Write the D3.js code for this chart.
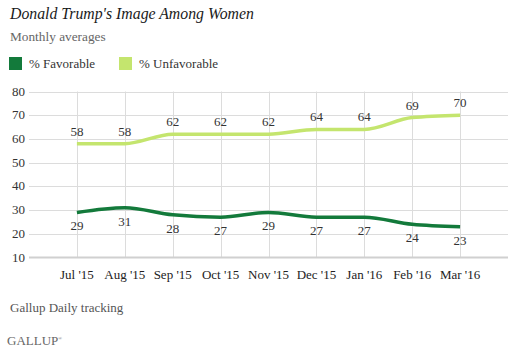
<!DOCTYPE html>
<html>
<head>
<meta charset="utf-8">
<script src="https://cdn.jsdelivr.net/npm/d3@7"></script>
<style>
  body { margin: 0; background: #fff; }
</style>
</head>
<body>
<div id="chart"></div>
<script>
// Data
const months = ["Jul '15", "Aug '15", "Sep '15", "Oct '15", "Nov '15", "Dec '15", "Jan '16", "Feb '16", "Mar '16"];
const favorable = [29, 31, 28, 27, 29, 27, 27, 24, 23];
const unfavorable = [58, 58, 62, 62, 62, 64, 64, 69, 70];
const yTicks = [10, 20, 30, 40, 50, 60, 70, 80];

const W = 514, H = 353;
const favColor = "#137a3b", unfavColor = "#c4e56e";
const serif = "Liberation Serif";

const svg = d3.select("#chart")
    .append("svg")
    .attr("width", W)
    .attr("height", H);

// marks first, texts later in their own group
const marks = svg.append("g");
const texts = svg.append("g").attr("font-family", serif);

// Scales
const x = d3.scalePoint()
    .domain(months)
    .range([29, 508])
    .padding(1);

const y = d3.scaleLinear()
    .domain([10, 80])
    .range([257.5, 91.5]);

// helper for text styling
function txt(sel, size, color) {
    return sel.attr("font-family", serif)
        .attr("font-size", size)
        .attr("fill", color);
}

// Horizontal gridlines
marks.selectAll(".hgrid")
    .data(yTicks.filter(d => d !== 10))
    .join("line")
    .attr("class", "hgrid")
    .attr("x1", 29).attr("x2", 508)
    .attr("y1", d => Math.round(y(d)) + 0.5).attr("y2", d => Math.round(y(d)) + 0.5)
    .attr("stroke", "#dcdcdc")
    .attr("stroke-width", 1);

// Vertical gridlines
marks.selectAll(".vgrid")
    .data(months)
    .join("line")
    .attr("class", "vgrid")
    .attr("x1", d => Math.round(x(d)) + 0.5).attr("x2", d => Math.round(x(d)) + 0.5)
    .attr("y1", y(80)).attr("y2", y(10))
    .attr("stroke", "#dcdcdc")
    .attr("stroke-width", 1);

// Baseline
marks.append("line")
    .attr("x1", 29).attr("x2", 508)
    .attr("y1", y(10)).attr("y2", y(10))
    .attr("stroke", "#d0d0d0")
    .attr("stroke-width", 2);

// Lines
const line = d3.line()
    .x((d, i) => x(months[i]))
    .y(d => y(d))
    .curve(d3.curveMonotoneX);

marks.append("path")
    .datum(unfavorable)
    .attr("d", line)
    .attr("fill", "none")
    .attr("stroke", unfavColor)
    .attr("stroke-width", 3.5);

marks.append("path")
    .datum(favorable)
    .attr("d", line)
    .attr("fill", "none")
    .attr("stroke", favColor)
    .attr("stroke-width", 3.5);

// Legend
const legend = [
    { label: "% Favorable", color: favColor, x: 9 },
    { label: "% Unfavorable", color: unfavColor, x: 119 }
];
marks.selectAll(".legend")
    .data(legend)
    .join("rect")
    .attr("class", "legend")
    .attr("x", d => d.x).attr("y", 57)
    .attr("width", 13).attr("height", 13)
    .attr("fill", d => d.color);

// Title + subtitle
txt(texts.append("text"), 15.8, "#1a1a1a")
    .attr("x", 10).attr("y", 19)
    .attr("font-style", "italic")
    .text("Donald Trump's Image Among Women");

txt(texts.append("text"), 13.3, "#666")
    .attr("x", 10).attr("y", 41)
    .text("Monthly averages");

txt(texts.selectAll(".leglab")
    .data(legend)
    .join("text")
    .attr("class", "leglab"), 13, "#333")
    .attr("x", d => d.x + 20).attr("y", 68)
    .text(d => d.label);

// Y axis labels
txt(texts.selectAll(".ylab")
    .data(yTicks)
    .join("text")
    .attr("class", "ylab"), 13, "#333")
    .attr("x", 25)
    .attr("y", d => y(d) + 4)
    .attr("text-anchor", "end")
    .text(d => d);

// X axis labels
txt(texts.selectAll(".xlab")
    .data(months)
    .join("text")
    .attr("class", "xlab"), 13, "#222")
    .attr("x", d => x(d))
    .attr("y", 279)
    .attr("text-anchor", "middle")
    .text(d => d);

// Data labels
txt(texts.selectAll(".ulab")
    .data(unfavorable)
    .join("text")
    .attr("class", "ulab"), 13, "#333")
    .attr("x", (d, i) => x(months[i]))
    .attr("y", d => y(d) - 8)
    .attr("text-anchor", "middle")
    .text(d => d);

txt(texts.selectAll(".flab")
    .data(favorable)
    .join("text")
    .attr("class", "flab"), 13, "#333")
    .attr("x", (d, i) => x(months[i]))
    .attr("y", d => y(d) + 18)
    .attr("text-anchor", "middle")
    .text(d => d);

// Footer
txt(texts.append("text"), 13, "#555")
    .attr("x", 10).attr("y", 312)
    .text("Gallup Daily tracking");

txt(texts.append("text"), 13, "#666")
    .attr("x", 7).attr("y", 345)
    .text("GALLUP")
  .append("tspan")
    .attr("dy", -5)
    .attr("font-size", 5)
    .text("®");
</script>
</body>
</html>
